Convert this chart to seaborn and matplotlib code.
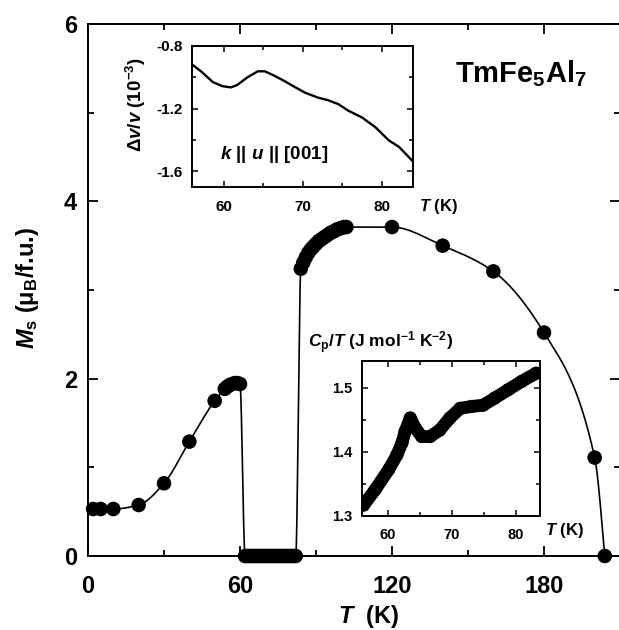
import numpy as np
import pandas as pd
import matplotlib
matplotlib.use("Agg")
import matplotlib.pyplot as plt
import seaborn as sns
from matplotlib.ticker import MultipleLocator, FixedLocator

# ---------------- data ----------------
# Spontaneous moment M_s (mu_B/f.u.) versus temperature T (K)
ms_temp_low = [2, 5, 10, 20, 30, 40, 50, 54, 55, 56, 57, 58, 59, 60]
ms_low = [0.53, 0.53, 0.53, 0.575, 0.82, 1.29, 1.75, 1.885, 1.91, 1.93, 1.94, 1.95, 1.95, 1.94]

ms_temp_zero = [62, 63, 64, 65, 66, 67, 68, 69, 70, 71, 72,
                73, 74, 75, 76, 77, 78, 79, 80, 81, 82]
ms_zero = [0.0] * len(ms_temp_zero)

ms_temp_high = [84, 85, 86, 87, 88, 89, 90, 91, 92, 93, 94, 95, 96, 97, 98,
                99, 100, 101, 102, 120, 140, 160, 180, 200, 204]
ms_high = [3.24, 3.31, 3.37, 3.42, 3.46, 3.49, 3.52, 3.55, 3.57, 3.59, 3.61,
           3.63, 3.65, 3.66, 3.68, 3.69, 3.70, 3.71, 3.71, 3.71, 3.50, 3.21,
           2.52, 1.11, 0.0]

# Sound velocity change dv/v (1e-3), k || u || [001]
dv_temp = [56.0, 57.1, 58.6, 59.8, 60.9, 61.7, 63.0, 64.3, 65.2, 66.5, 67.7,
           69.0, 70.3, 71.9, 73.2, 74.5, 75.8, 77.5, 79.2, 80.9, 82.2, 84.0]
dv_val = [-0.92, -0.962, -1.031, -1.057, -1.065, -1.049, -1.0, -0.962, -0.962,
          -0.993, -1.025, -1.063, -1.099, -1.130, -1.147, -1.172, -1.215,
          -1.257, -1.320, -1.404, -1.446, -1.541]

# Specific heat C_p/T (J mol^-1 K^-2)
cp_temp = [56.2, 58.0, 60.1, 61.4, 62.2, 62.7, 63.5, 64.3, 65.3, 66.6, 68.1,
           69.7, 71.3, 73.1, 74.9, 76.7, 78.8, 80.9, 83.2]
cp_val = [1.317, 1.341, 1.372, 1.395, 1.414, 1.432, 1.453, 1.437, 1.424, 1.424,
          1.434, 1.453, 1.468, 1.471, 1.473, 1.484, 1.497, 1.510, 1.523]


def pchip(x, y, xs):
    """Shape-preserving piecewise cubic through (x, y), evaluated at xs."""
    x = np.asarray(x, float)
    y = np.asarray(y, float)
    h = np.diff(x)
    d = np.diff(y) / h
    n = len(x)
    m = np.zeros(n)
    for k in range(1, n - 1):
        if d[k - 1] * d[k] > 0:
            w1 = 2 * h[k] + h[k - 1]
            w2 = h[k] + 2 * h[k - 1]
            m[k] = (w1 + w2) / (w1 / d[k - 1] + w2 / d[k])

    def end(h0, h1, d0, d1):
        v = ((2 * h0 + h1) * d0 - h0 * d1) / (h0 + h1)
        if np.sign(v) != np.sign(d0):
            v = 0.0
        elif np.sign(d0) != np.sign(d1) and abs(v) > abs(3 * d0):
            v = 3 * d0
        return v

    m[0] = end(h[0], h[1], d[0], d[1])
    m[-1] = end(h[-1], h[-2], d[-1], d[-2])
    idx = np.clip(np.searchsorted(x, xs) - 1, 0, n - 2)
    t = (xs - x[idx]) / h[idx]
    h00 = 2 * t**3 - 3 * t**2 + 1
    h10 = t**3 - 2 * t**2 + t
    h01 = -2 * t**3 + 3 * t**2
    h11 = t**3 - t**2
    return (h00 * y[idx] + h10 * h[idx] * m[idx]
            + h01 * y[idx + 1] + h11 * h[idx] * m[idx + 1])


# ---------------- style ----------------
sns.set_theme(style="ticks")
plt.rcParams.update({
    "font.family": ["Liberation Sans", "DejaVu Sans"],
    "font.weight": "bold",
    "mathtext.fontset": "custom",
    "mathtext.rm": "Liberation Sans:bold",
    "mathtext.it": "Liberation Sans:italic:bold",
    "mathtext.bf": "Liberation Sans:bold",
    "axes.unicode_minus": False,
    "axes.edgecolor": "black",
    "axes.linewidth": 1.4,
    "text.color": "black",
    "axes.labelcolor": "black",
    "xtick.color": "black",
    "ytick.color": "black",
})

fig = plt.figure(figsize=(6.19, 6.30), dpi=100)
ax = fig.add_axes([0.14217, 0.11746, 0.85945, 0.84444])

# guide curve through the measured points
all_T = np.array(ms_temp_low + ms_temp_zero + ms_temp_high, float)
all_M = np.array(ms_low + ms_zero + ms_high, float)
T_fine = np.linspace(all_T[0], all_T[-1], 3000)
T_fine = np.unique(np.concatenate([T_fine, all_T]))
M_fine = pchip(all_T, all_M, T_fine)
sns.lineplot(x=T_fine, y=M_fine, ax=ax, color="black", lw=1.2,
             sort=False, estimator=None, zorder=2)

pts = pd.DataFrame({"T": all_T, "M": all_M})
sns.scatterplot(data=pts, x="T", y="M", ax=ax, color="black", s=110,
                edgecolor="none", linewidth=0, zorder=3, clip_on=False)

ax.set_xlim(0, 210)
ax.set_ylim(0, 6)
ax.xaxis.set_major_locator(MultipleLocator(60))
ax.xaxis.set_minor_locator(MultipleLocator(30))
ax.yaxis.set_major_locator(MultipleLocator(2))
ax.yaxis.set_minor_locator(MultipleLocator(1))
ax.tick_params(which="both", direction="in", top=True, right=True,
               width=1.3, labelsize=17)
ax.tick_params(which="major", length=7.5)
ax.tick_params(which="minor", length=4)
ax.tick_params(axis="x", which="major", pad=14)
ax.tick_params(axis="y", which="major", pad=8)

ax.set_xlabel("$T$  (K)", fontsize=17, fontweight="bold")
ax.xaxis.set_label_coords(0.528, -0.088)
ax.set_ylabel(r"$M_\mathrm{s}$ (μ$_\mathrm{B}$/f.u.)", fontsize=17,
              fontweight="bold")
ax.yaxis.set_label_coords(-0.088, 0.504)

ax.text(0.690, 0.891, r"TmFe$_5$Al$_7$", transform=ax.transAxes,
        fontsize=21, fontweight="bold", ha="left", va="baseline")

# ---------------- inset: sound velocity ----------------
ax1 = fig.add_axes([0.3107, 0.7037, 0.3570, 0.2233])
ax1.set_facecolor("white")
sns.lineplot(x=dv_temp, y=dv_val, ax=ax1, color="black", lw=1.7,
             sort=False, estimator=None)
ax1.set_xlim(56, 84)
ax1.set_ylim(-1.7, -0.8)
ax1.xaxis.set_major_locator(FixedLocator([60, 70, 80]))
ax1.xaxis.set_minor_locator(FixedLocator([65, 75]))
ax1.yaxis.set_major_locator(FixedLocator([-1.6, -1.2, -0.8]))
ax1.yaxis.set_minor_locator(FixedLocator([-1.4, -1.0]))
ax1.tick_params(which="both", direction="in", top=True, right=True,
                width=1.1, labelsize=11)
ax1.tick_params(which="major", length=4.5)
ax1.tick_params(which="minor", length=3)
ax1.tick_params(axis="x", which="major", pad=9.5)
ax1.tick_params(axis="y", which="major", pad=7)
ax1.set_xlabel("$T$ (K)", fontsize=12, fontweight="bold")
ax1.xaxis.set_label_coords(1.112, -0.073)
ax1.set_ylabel(r"$\mathit{\Delta v/v}$ (10$^{-3}$)", fontsize=13.5,
               fontweight="bold")
ax1.yaxis.set_label_coords(-0.2005, 0.581)
ax1.text(0.125, 0.197, "$k$ || $u$ || [001]", transform=ax1.transAxes,
         fontsize=13.5, fontweight="bold", ha="left", va="baseline")

# ---------------- inset: specific heat ----------------
ax2 = fig.add_axes([0.5853, 0.1810, 0.2871, 0.2460])
ax2.set_facecolor("white")
sns.lineplot(x=cp_temp, y=cp_val, ax=ax2, color="black", lw=9.2,
             sort=False, estimator=None, solid_capstyle="round",
             solid_joinstyle="round")
sns.scatterplot(x=cp_temp, y=cp_val, ax=ax2, color="black", s=90,
                edgecolor="none", linewidth=0)
ax2.set_xlim(56, 83.8)
ax2.set_ylim(1.3, 1.542)
ax2.xaxis.set_major_locator(FixedLocator([60, 70, 80]))
ax2.xaxis.set_minor_locator(FixedLocator([65, 75]))
ax2.yaxis.set_major_locator(FixedLocator([1.3, 1.4, 1.5]))
ax2.yaxis.set_minor_locator(FixedLocator([1.35, 1.45]))
ax2.tick_params(which="both", direction="in", top=True, right=True,
                width=1.1, labelsize=10.5)
ax2.tick_params(which="major", length=4.5)
ax2.tick_params(which="minor", length=3)
ax2.tick_params(axis="x", which="major", pad=8.5)
ax2.tick_params(axis="y", which="major", pad=7)
ax2.set_xlabel("")
ax2.set_ylabel("")
ax2.text(1.028, -0.123, "$T$ (K)", transform=ax2.transAxes,
         fontsize=12, fontweight="bold", ha="left", va="baseline")
ax2.text(-0.3056, 1.084, r"$C_\mathrm{p}$/$T$ (J mol$^{-1}$ K$^{-2}$)",
         transform=ax2.transAxes, fontsize=12.5, fontweight="bold",
         ha="left", va="baseline")

for a in (ax, ax1, ax2):
    for s in a.spines.values():
        s.set_visible(True)
        s.set_color("black")
ax.spines["right"].set_visible(False)

fig.savefig("out.png", dpi=100)
